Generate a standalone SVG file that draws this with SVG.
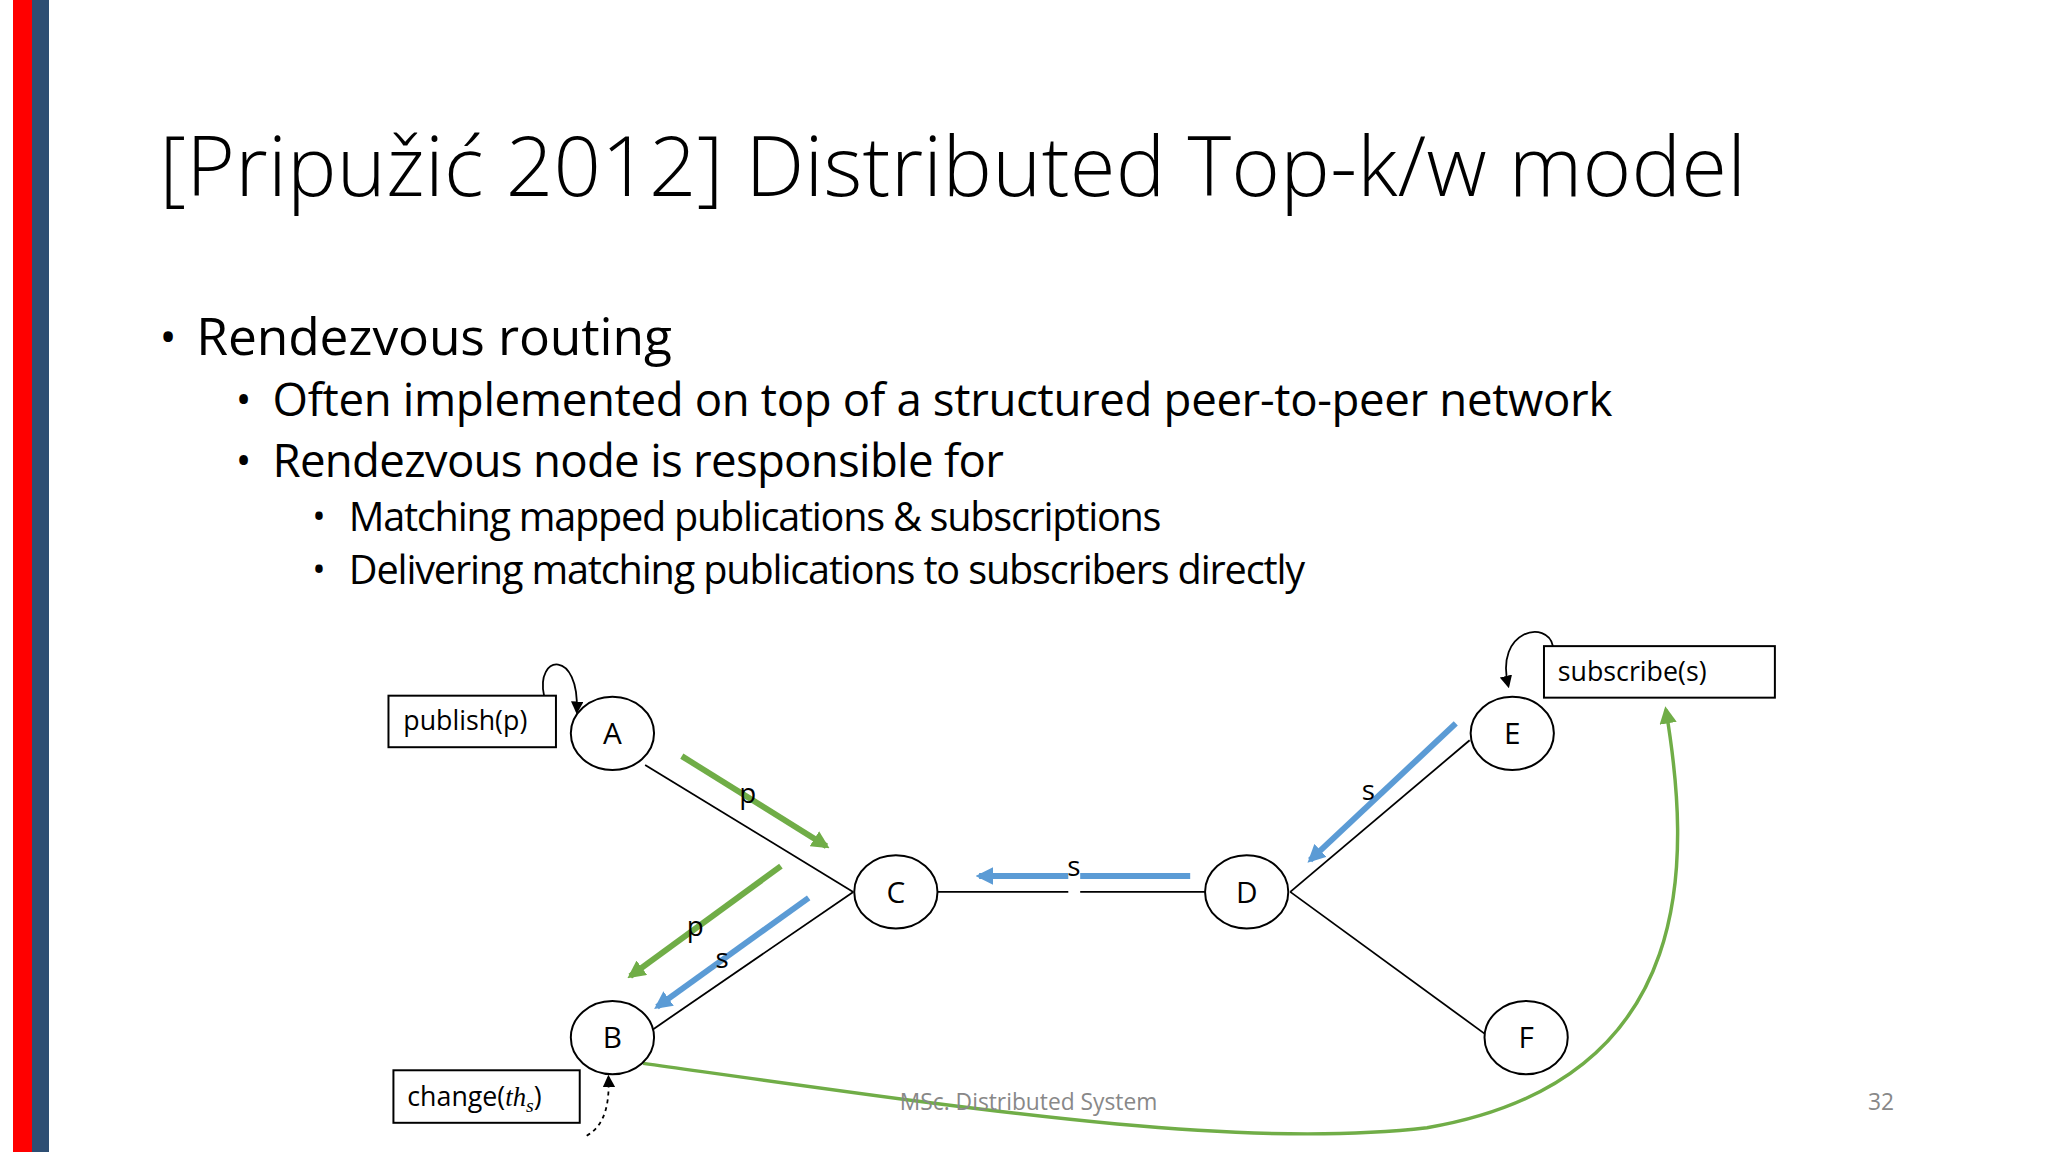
<svg xmlns="http://www.w3.org/2000/svg" width="2048" height="1152" viewBox="0 0 2048 1152">
<style>
text{font-family:"Open Sans","Liberation Sans",sans-serif;fill:#000}
.n{fill:#fff;stroke:#000;stroke-width:2}
.e{stroke:#000;stroke-width:1.8;fill:none}
.g{stroke:#70ad47;stroke-width:6;fill:none}
.b{stroke:#5b9bd5;stroke-width:6;fill:none}
.lbl{font-size:28px}
.nl{font-size:30px;text-anchor:middle}
</style>
<defs>
<marker id="ag" viewBox="0 0 10 10" refX="8" refY="5" markerWidth="3" markerHeight="3" orient="auto"><path d="M0,0L10,5L0,10z" fill="#70ad47"/></marker>
<marker id="ab" viewBox="0 0 10 10" refX="8" refY="5" markerWidth="3" markerHeight="3" orient="auto"><path d="M0,0L10,5L0,10z" fill="#5b9bd5"/></marker>
<marker id="ak" viewBox="0 0 10 10" refX="8" refY="5" markerWidth="7" markerHeight="7" orient="auto"><path d="M0,0L10,5L0,10z" fill="#000"/></marker>
<marker id="ag2" viewBox="0 0 10 10" refX="8" refY="5" markerWidth="5" markerHeight="5" orient="auto"><path d="M0,0L10,5L0,10z" fill="#70ad47"/></marker>
</defs>
<rect width="2048" height="1152" fill="#fff"/>
<rect x="13" y="0" width="19" height="1152" fill="#f00"/>
<rect x="32" y="0" width="17" height="1152" fill="#2e4e73"/>
<g transform="scale(0.991)">
<text x="161" y="198" font-size="84" textLength="1601" style="font-weight:300">[Pripužić 2012] Distributed Top-k/w model</text>
<text x="161" y="356" font-size="46">•</text>
<text x="198" y="358" font-size="52" textLength="480">Rendezvous routing</text>
<text x="238" y="418" font-size="42">•</text>
<text x="275" y="420" font-size="46" textLength="1352">Often implemented on top of a structured peer-to-peer network</text>
<text x="238" y="479" font-size="42">•</text>
<text x="275" y="481" font-size="46" textLength="738">Rendezvous node is responsible for</text>
<text x="315" y="534" font-size="36">•</text>
<text x="352" y="536" font-size="40" textLength="820">Matching mapped publications &amp; subscriptions</text>
<text x="315" y="587" font-size="36">•</text>
<text x="352" y="589" font-size="40" textLength="965">Delivering matching publications to subscribers directly</text>
<g id="connectors">
<line class="e" x1="651" y1="772" x2="861" y2="900"/>
<line class="e" x1="861" y1="900" x2="657" y2="1040"/>
<line class="e" x1="946" y1="900" x2="1216" y2="900"/>
<line class="e" x1="1302" y1="900" x2="1483" y2="747"/>
<line class="e" x1="1302" y1="900" x2="1498" y2="1043"/>
<line class="g" x1="688" y1="763" x2="834" y2="854" marker-end="url(#ag)"/>
<line class="g" x1="788" y1="874" x2="636" y2="985" marker-end="url(#ag)"/>
<line class="b" x1="816" y1="906" x2="663" y2="1016" marker-end="url(#ab)"/>
<line class="b" x1="1201" y1="884" x2="988" y2="884" marker-end="url(#ab)"/>
<line class="b" x1="1469" y1="730" x2="1322" y2="868" marker-end="url(#ab)"/>
<path class="g" style="stroke-width:3.5" d="M649,1073 C1000,1122 1250,1160 1440,1138 C1720,1090 1705,860 1681,716" marker-end="url(#ag2)"/>
<path class="e" d="M549,702 C540,660 585,655 582,718" marker-end="url(#ak)"/>
<path class="e" d="M1567,652 C1562,625 1508,635 1522,692" marker-end="url(#ak)"/>
<path class="e" stroke-dasharray="4,4" d="M592,1146 C612,1135 615,1110 614,1087" marker-end="url(#ak)"/>
<rect x="1078" y="868" width="12" height="36" fill="#fff"/>
<text class="lbl" x="746" y="810">p</text>
<text class="lbl" x="693" y="945">p</text>
<text class="lbl" x="722" y="977">s</text>
<text class="lbl" x="1077" y="884">s</text>
<text class="lbl" x="1374" y="807">s</text>
</g>
<g id="A"><ellipse class="n" cx="618" cy="740" rx="42" ry="37"/><text class="nl" x="618" y="751">A</text></g>
<g id="B"><ellipse class="n" cx="618" cy="1047" rx="42" ry="37"/><text class="nl" x="618" y="1058">B</text></g>
<g id="C"><ellipse class="n" cx="904" cy="900" rx="42" ry="37"/><text class="nl" x="904" y="911">C</text></g>
<g id="D"><ellipse class="n" cx="1258" cy="900" rx="42" ry="37"/><text class="nl" x="1258" y="911">D</text></g>
<g id="E"><ellipse class="n" cx="1526" cy="740" rx="42" ry="37"/><text class="nl" x="1526" y="751">E</text></g>
<g id="F"><ellipse class="n" cx="1540" cy="1047" rx="42" ry="37"/><text class="nl" x="1540" y="1058">F</text></g>
<g id="publish"><rect class="n" x="392" y="702" width="169" height="52"/><text x="407" y="737" font-size="27">publish(p)</text></g>
<g id="subscribe"><rect class="n" x="1558" y="652" width="233" height="52"/><text x="1572" y="687" font-size="27">subscribe(s)</text></g>
<g id="change"><rect class="n" x="397" y="1080" width="188" height="53"/><text x="411" y="1116" font-size="27">change(<tspan font-style="italic" font-family="Liberation Serif,serif">th</tspan><tspan font-style="italic" font-family="Liberation Serif,serif" font-size="20" dy="6">s</tspan><tspan dy="-6">)</tspan></text></g>
<text x="908" y="1120" font-size="23" style="fill:#888">MSc. Distributed System</text>
<text x="1885" y="1120" font-size="23" style="fill:#888">32</text>
</g>
</svg>
